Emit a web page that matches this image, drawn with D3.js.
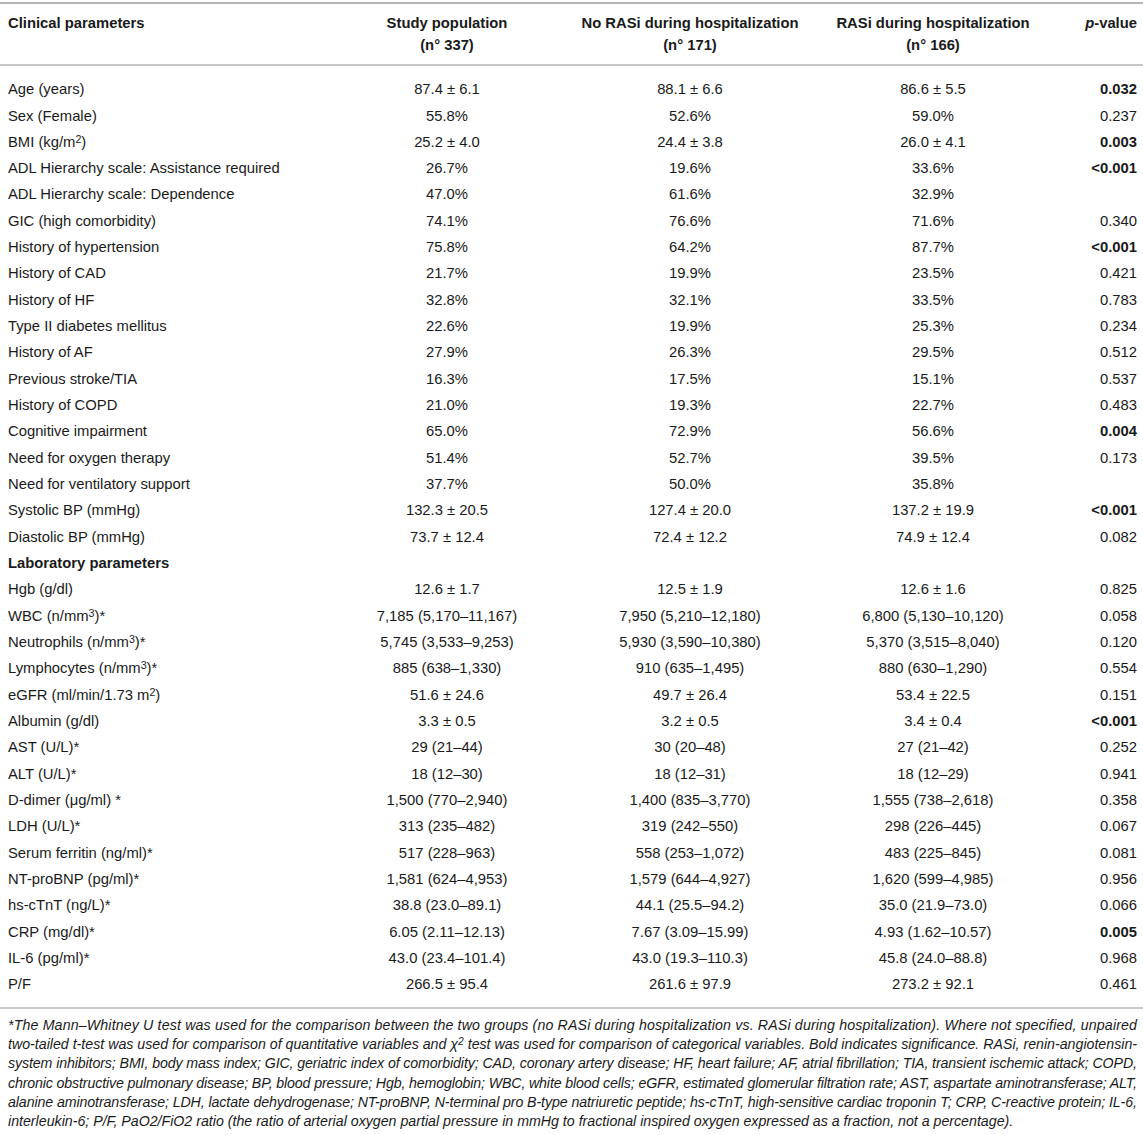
<!DOCTYPE html>
<html>
<head>
<meta charset="utf-8">
<script src="https://cdn.jsdelivr.net/npm/d3@7"></script>
<style>
  body { margin: 0; background: #fff; }
  svg { display: block; font-family: "Liberation Sans", Arial, Helvetica, sans-serif; }
</style>
</head>
<body>
<div class="table-plot"></div>
<script>
// column headers
const headerLine1 = ["Clinical parameters", "Study population", "No RASi during hospitalization", "RASi during hospitalization", "p-value"];
const headerLine2 = ["", "(n° 337)", "(n° 171)", "(n° 166)", ""];

// row labels, ^n marks a superscript digit
const params = [
  "Age (years)", "Sex (Female)", "BMI (kg/m^2)", "ADL Hierarchy scale: Assistance required",
  "ADL Hierarchy scale: Dependence", "GIC (high comorbidity)", "History of hypertension",
  "History of CAD", "History of HF", "Type II diabetes mellitus", "History of AF",
  "Previous stroke/TIA", "History of COPD", "Cognitive impairment", "Need for oxygen therapy",
  "Need for ventilatory support", "Systolic BP (mmHg)", "Diastolic BP (mmHg)",
  "Laboratory parameters",
  "Hgb (g/dl)", "WBC (n/mm^3)*", "Neutrophils (n/mm^3)*", "Lymphocytes (n/mm^3)*",
  "eGFR (ml/min/1.73 m^2)", "Albumin (g/dl)", "AST (U/L)*", "ALT (U/L)*", "D-dimer (μg/ml) *",
  "LDH (U/L)*", "Serum ferritin (ng/ml)*", "NT-proBNP (pg/ml)*", "hs-cTnT (ng/L)*",
  "CRP (mg/dl)*", "IL-6 (pg/ml)*", "P/F"
];
const sectionRows = ["Laboratory parameters"];

const studyPop = [
  "87.4 ± 6.1", "55.8%", "25.2 ± 4.0", "26.7%", "47.0%", "74.1%", "75.8%", "21.7%", "32.8%",
  "22.6%", "27.9%", "16.3%", "21.0%", "65.0%", "51.4%", "37.7%", "132.3 ± 20.5", "73.7 ± 12.4",
  "",
  "12.6 ± 1.7", "7,185 (5,170–11,167)", "5,745 (3,533–9,253)", "885 (638–1,330)", "51.6 ± 24.6",
  "3.3 ± 0.5", "29 (21–44)", "18 (12–30)", "1,500 (770–2,940)", "313 (235–482)", "517 (228–963)",
  "1,581 (624–4,953)", "38.8 (23.0–89.1)", "6.05 (2.11–12.13)", "43.0 (23.4–101.4)", "266.5 ± 95.4"
];
const noRasi = [
  "88.1 ± 6.6", "52.6%", "24.4 ± 3.8", "19.6%", "61.6%", "76.6%", "64.2%", "19.9%", "32.1%",
  "19.9%", "26.3%", "17.5%", "19.3%", "72.9%", "52.7%", "50.0%", "127.4 ± 20.0", "72.4 ± 12.2",
  "",
  "12.5 ± 1.9", "7,950 (5,210–12,180)", "5,930 (3,590–10,380)", "910 (635–1,495)", "49.7 ± 26.4",
  "3.2 ± 0.5", "30 (20–48)", "18 (12–31)", "1,400 (835–3,770)", "319 (242–550)", "558 (253–1,072)",
  "1,579 (644–4,927)", "44.1 (25.5–94.2)", "7.67 (3.09–15.99)", "43.0 (19.3–110.3)", "261.6 ± 97.9"
];
const rasi = [
  "86.6 ± 5.5", "59.0%", "26.0 ± 4.1", "33.6%", "32.9%", "71.6%", "87.7%", "23.5%", "33.5%",
  "25.3%", "29.5%", "15.1%", "22.7%", "56.6%", "39.5%", "35.8%", "137.2 ± 19.9", "74.9 ± 12.4",
  "",
  "12.6 ± 1.6", "6,800 (5,130–10,120)", "5,370 (3,515–8,040)", "880 (630–1,290)", "53.4 ± 22.5",
  "3.4 ± 0.4", "27 (21–42)", "18 (12–29)", "1,555 (738–2,618)", "298 (226–445)", "483 (225–845)",
  "1,620 (599–4,985)", "35.0 (21.9–73.0)", "4.93 (1.62–10.57)", "45.8 (24.0–88.8)", "273.2 ± 92.1"
];
const pValues = [
  "0.032", "0.237", "0.003", "<0.001", "", "0.340", "<0.001", "0.421", "0.783",
  "0.234", "0.512", "0.537", "0.483", "0.004", "0.173", "", "<0.001", "0.082",
  "",
  "0.825", "0.058", "0.120", "0.554", "0.151", "<0.001", "0.252", "0.941", "0.358",
  "0.067", "0.081", "0.956", "0.066", "0.005", "0.968", "0.461"
];

const footnoteLines = [
  "*The Mann–Whitney U test was used for the comparison between the two groups (no RASi during hospitalization vs. RASi during hospitalization). Where not specified, unpaired",
  "two-tailed t-test was used for comparison of quantitative variables and χ^2 test was used for comparison of categorical variables. Bold indicates significance. RASi, renin-angiotensin-",
  "system inhibitors; BMI, body mass index; GIC, geriatric index of comorbidity; CAD, coronary artery disease; HF, heart failure; AF, atrial fibrillation; TIA, transient ischemic attack; COPD,",
  "chronic obstructive pulmonary disease; BP, blood pressure; Hgb, hemoglobin; WBC, white blood cells; eGFR, estimated glomerular filtration rate; AST, aspartate aminotransferase; ALT,",
  "alanine aminotransferase; LDH, lactate dehydrogenase; NT-proBNP, N-terminal pro B-type natriuretic peptide; hs-cTnT, high-sensitive cardiac troponin T; CRP, C-reactive protein; IL-6,",
  "interleukin-6; P/F, PaO2/FiO2 ratio (the ratio of arterial oxygen partial pressure in mmHg to fractional inspired oxygen expressed as a fraction, not a percentage)."
];

const width = 1143;
const height = 1135;
const left = 8;
const right = 1137;
const ink = "#1a1a1a";
const ruleColor = "#b4b4b4";
const fs = 14.8;

const svg = d3.select('.table-plot')
  .append('svg')
  .attr('width', width)
  .attr('height', height);

// writes a label into a text element, turning ^n into a raised digit
function richText(sel, s) {
  s.split(/(\^\d)/).forEach(part => {
    if (!part) return;
    if (part[0] === "^") {
      sel.append("tspan")
        .attr("font-size", "0.72em")
        .attr("baseline-shift", "38%")
        .text(part.slice(1));
    } else {
      sel.append("tspan").text(part);
    }
  });
}

// column positions and anchors
const colKeys = ["param", "study", "no", "rasi", "p"];
const colX = d3.scaleOrdinal().domain(colKeys).range([left, 447, 690, 933, right]);
const colAnchor = d3.scaleOrdinal().domain(colKeys).range(["start", "middle", "middle", "middle", "end"]);

// rows
const y = d3.scalePoint()
  .domain(d3.range(params.length))
  .range([89, 984]);

const isSig = p => p !== "" && (p.startsWith("<") || +p < 0.05);

// rules
[3, 65, 1008].forEach((ry, i) => {
  svg.append("line")
    .attr("x1", 0).attr("x2", width)
    .attr("y1", ry).attr("y2", ry)
    .attr("stroke", ruleColor)
    .attr("stroke-width", i === 0 ? 2 : 1.6);
});

// header
const head = svg.append("g").attr("font-weight", "bold").attr("fill", ink).attr("font-size", fs);
colKeys.forEach((k, i) => {
  const t = head.append("text")
    .attr("x", colX(k))
    .attr("y", 23)
    .attr("dy", "0.35em")
    .attr("text-anchor", colAnchor(k));
  if (k === "p") {
    t.append("tspan").attr("font-style", "italic").text("p");
    t.append("tspan").text("-value");
  } else {
    t.text(headerLine1[i]);
  }
  if (headerLine2[i]) {
    head.append("text")
      .attr("x", colX(k))
      .attr("y", 45)
      .attr("dy", "0.35em")
      .attr("text-anchor", colAnchor(k))
      .text(headerLine2[i]);
  }
});

// body rows
const rows = svg.append("g")
  .attr("font-size", fs)
  .attr("fill", ink)
  .selectAll("g")
  .data(params.map((d, i) => ({
    param: d, study: studyPop[i], no: noRasi[i], rasi: rasi[i], p: pValues[i], i
  })))
  .enter()
  .append("g")
  .attr("transform", d => `translate(0,${y(d.i)})`);

colKeys.forEach(k => {
  rows.append("text")
    .attr("x", colX(k))
    .attr("dy", "0.35em")
    .attr("text-anchor", colAnchor(k))
    .attr("font-weight", d => {
      if (k === "param") return sectionRows.includes(d.param) ? "bold" : null;
      if (k === "p") return isSig(d.p) ? "bold" : null;
      return null;
    })
    .each(function(d) { richText(d3.select(this), d[k]); });
});

// footnote
const fy = d3.scalePoint()
  .domain(d3.range(footnoteLines.length))
  .range([1025, 1121]);

svg.append("g")
  .attr("font-size", 14.2)
  .attr("font-style", "italic")
  .attr("fill", ink)
  .selectAll("text")
  .data(footnoteLines)
  .enter()
  .append("text")
  .attr("x", left)
  .attr("y", (d, i) => fy(i))
  .attr("dy", "0.35em")
  .attr("textLength", (d, i) => i < footnoteLines.length - 1 ? right - left : null)
  .attr("lengthAdjust", "spacing")
  .each(function(d) { richText(d3.select(this), d); });
</script>
</body>
</html>
